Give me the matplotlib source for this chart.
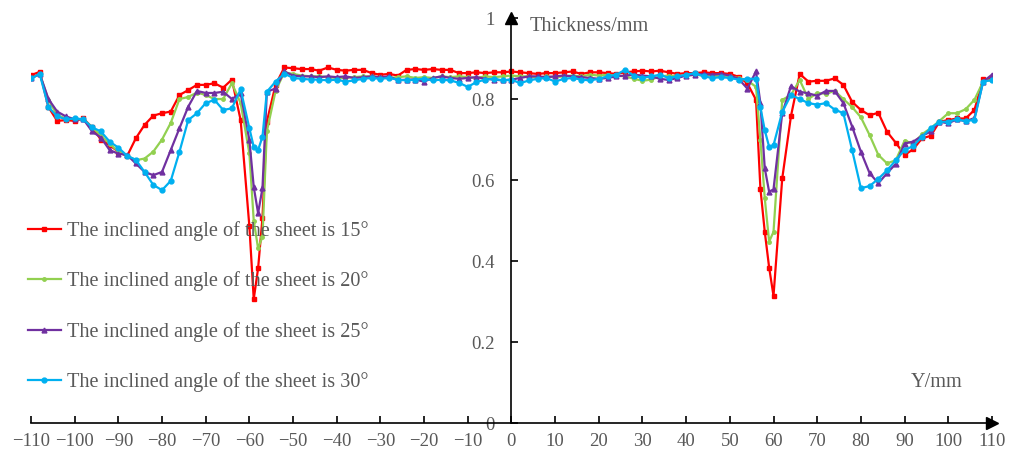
import matplotlib
matplotlib.use("Agg")
import matplotlib.pyplot as plt

# positions along the sheet (mm); denser sampling through the two grooves
X_POS = [-110, -108, -106, -104, -102, -100, -98, -96, -94, -92, -90, -88,
         -86, -84, -82, -80, -78, -76, -74, -72, -70, -68, -66, -64,
         -62, -60, -59, -58, -57, -56,
         -54, -52, -50, -48, -46, -44, -42, -40, -38, -36, -34,
         -32, -30, -28, -26, -24, -22, -20, -18, -16, -14, -12,
         -10, -8, -6, -4, -2, 0, 2, 4, 6, 8, 10,
         12, 14, 16, 18, 20, 22, 24, 26, 28, 30, 32,
         34, 36, 38, 40, 42, 44, 46, 48, 50, 52, 54,
         56, 57, 58, 59, 60,
         62, 64, 66, 68, 70, 72, 74, 76, 78, 80, 82, 84, 86,
         88, 90, 92, 94, 96, 98, 100, 102, 104, 106, 108, 110]

thick_15 = [0.859, 0.867, 0.780, 0.746, 0.748, 0.746, 0.752, 0.730, 0.700, 0.686, 0.670, 0.659,
            0.703, 0.736, 0.759, 0.765, 0.769, 0.810, 0.822, 0.835, 0.835, 0.839, 0.828, 0.848,
            0.748, 0.486, 0.306, 0.382, 0.507, 0.744,
            0.835, 0.878, 0.876, 0.874, 0.874, 0.870, 0.878, 0.872, 0.870, 0.872, 0.872,
            0.864, 0.860, 0.862, 0.858, 0.872, 0.874, 0.872, 0.874, 0.872, 0.872, 0.864,
            0.864, 0.866, 0.864, 0.866, 0.866, 0.868, 0.866, 0.864, 0.862, 0.864, 0.864,
            0.866, 0.868, 0.862, 0.866, 0.866, 0.864, 0.862, 0.866, 0.868, 0.870, 0.868,
            0.870, 0.866, 0.862, 0.864, 0.864, 0.866, 0.864, 0.864, 0.862, 0.855, 0.839,
            0.798, 0.579, 0.472, 0.384, 0.314,
            0.604, 0.758, 0.862, 0.843, 0.845, 0.845, 0.851, 0.835, 0.793, 0.773, 0.760, 0.766, 0.719,
            0.692, 0.662, 0.676, 0.703, 0.709, 0.744, 0.748, 0.752, 0.752, 0.773, 0.849, 0.849]

thick_20 = [0.851, 0.862, 0.798, 0.760, 0.752, 0.750, 0.750, 0.730, 0.710, 0.690, 0.670, 0.660,
            0.649, 0.653, 0.670, 0.700, 0.741, 0.800, 0.805, 0.816, 0.810, 0.800, 0.800, 0.839,
            0.790, 0.666, 0.500, 0.431, 0.460, 0.720,
            0.820, 0.866, 0.862, 0.858, 0.856, 0.856, 0.854, 0.852, 0.852, 0.854, 0.856,
            0.856, 0.854, 0.852, 0.854, 0.856, 0.852, 0.854, 0.852, 0.856, 0.854, 0.856,
            0.854, 0.852, 0.856, 0.854, 0.856, 0.858, 0.856, 0.856, 0.852, 0.856, 0.854,
            0.856, 0.858, 0.856, 0.860, 0.858, 0.860, 0.858, 0.856, 0.850, 0.845, 0.848,
            0.856, 0.858, 0.856, 0.858, 0.860, 0.858, 0.858, 0.856, 0.856, 0.852, 0.846,
            0.830, 0.699, 0.555, 0.448, 0.472,
            0.798, 0.810, 0.847, 0.800, 0.815, 0.813, 0.820, 0.800, 0.780, 0.755, 0.711, 0.662, 0.641,
            0.649, 0.697, 0.690, 0.713, 0.728, 0.746, 0.765, 0.765, 0.775, 0.798, 0.843, 0.847]

thick_25 = [0.851, 0.862, 0.800, 0.769, 0.757, 0.750, 0.750, 0.720, 0.705, 0.674, 0.665, 0.662,
            0.641, 0.620, 0.612, 0.620, 0.674, 0.728, 0.781, 0.820, 0.815, 0.815, 0.818, 0.800,
            0.814, 0.699, 0.583, 0.518, 0.580, 0.818,
            0.826, 0.868, 0.858, 0.856, 0.856, 0.854, 0.856, 0.854, 0.856, 0.852, 0.854,
            0.856, 0.854, 0.856, 0.846, 0.848, 0.848, 0.843, 0.852, 0.856, 0.852, 0.850,
            0.852, 0.854, 0.850, 0.848, 0.846, 0.848, 0.852, 0.856, 0.856, 0.854, 0.856,
            0.858, 0.856, 0.854, 0.852, 0.850, 0.852, 0.856, 0.858, 0.860, 0.858, 0.856,
            0.850, 0.847, 0.852, 0.858, 0.860, 0.862, 0.860, 0.862, 0.858, 0.850, 0.826,
            0.868, 0.790, 0.629, 0.571, 0.577,
            0.765, 0.832, 0.818, 0.814, 0.808, 0.820, 0.820, 0.790, 0.732, 0.670, 0.617, 0.592, 0.617,
            0.640, 0.690, 0.695, 0.709, 0.720, 0.744, 0.740, 0.750, 0.745, 0.753, 0.843, 0.860]

thick_30 = [0.851, 0.862, 0.780, 0.757, 0.750, 0.752, 0.750, 0.730, 0.720, 0.695, 0.680, 0.660,
            0.650, 0.620, 0.588, 0.575, 0.598, 0.670, 0.748, 0.765, 0.790, 0.798, 0.773, 0.777,
            0.824, 0.728, 0.682, 0.674, 0.707, 0.818,
            0.843, 0.863, 0.852, 0.850, 0.848, 0.848, 0.846, 0.848, 0.843, 0.846, 0.850,
            0.852, 0.850, 0.852, 0.848, 0.846, 0.848, 0.850, 0.846, 0.848, 0.846, 0.840,
            0.830, 0.842, 0.848, 0.850, 0.846, 0.848, 0.839, 0.846, 0.850, 0.852, 0.843,
            0.850, 0.852, 0.848, 0.846, 0.850, 0.856, 0.860, 0.872, 0.858, 0.852, 0.856,
            0.860, 0.852, 0.856, 0.860, 0.864, 0.856, 0.852, 0.854, 0.852, 0.848, 0.850,
            0.850, 0.780, 0.723, 0.682, 0.686,
            0.768, 0.810, 0.800, 0.790, 0.786, 0.790, 0.774, 0.765, 0.674, 0.580, 0.585, 0.603, 0.624,
            0.649, 0.674, 0.684, 0.707, 0.728, 0.744, 0.744, 0.750, 0.745, 0.749, 0.843, 0.847]

angles = [15, 20, 25, 30]
x_ticks = list(range(-110, 111, 10))
y_ticks = [0, 0.2, 0.4, 0.6, 0.8, 1]
y_tick_labels = ["0", "0.2", "0.4", "0.6", "0.8", "1"]

GREY = "#595959"
plt.rcParams["font.family"] = ["Liberation Serif", "DejaVu Serif"]

fig = plt.figure(figsize=(10.19, 4.59), dpi=100)
ax = fig.add_axes([0.0304, 0.0784, 0.943, 0.8823])

styles = [("#ff0000", "s", 3.5), ("#92d050", "o", 2.5),
          ("#7030a0", "^", 3.5), ("#00b0f0", "o", 3.5)]
for ys, angle, (col, mk, ms) in zip([thick_15, thick_20, thick_25, thick_30], angles, styles):
    ax.plot(X_POS, ys, color=col, marker=mk, ms=ms, lw=1.6,
            label=f"The inclined angle of the sheet is {angle}\u00b0")

ax.set_xlim(-110, 110)
ax.set_ylim(0, 1)
ax.spines["left"].set_position(("data", 0))
ax.spines["top"].set_visible(False)
ax.spines["right"].set_visible(False)
for s in ("left", "bottom"):
    ax.spines[s].set_linewidth(1.2)

ax.set_xticks(x_ticks)
ax.set_yticks(y_ticks)
ax.set_yticklabels(y_tick_labels)
ax.tick_params(axis="both", direction="in", length=5, width=1.2,
               labelcolor=GREY, labelsize=13.5)
ax.tick_params(axis="x", pad=7)
ax.tick_params(axis="y", pad=12)

# arrow heads on both axes
ax.plot(1, 0, marker=">", color="k", ms=8, transform=ax.transAxes, clip_on=False)
ax.plot(0, 1, marker="^", color="k", ms=8, transform=ax.get_xaxis_transform(), clip_on=False)

ax.text(4.1, 0.978, "Thickness/mm", ha="left", va="center", fontsize=14.6, color=GREY)
ax.text(91.5, 0.099, "Y/mm", ha="left", va="center", fontsize=14.6, color=GREY)

ax.legend(loc="upper left", bbox_to_anchor=(0.027, 0.518), bbox_transform=fig.transFigure,
          frameon=False, fontsize=14.6, labelcolor=GREY, labelspacing=1.5,
          handlelength=1.65, handletextpad=0.3, borderpad=0, borderaxespad=0)

fig.savefig("out.png", dpi=100)
